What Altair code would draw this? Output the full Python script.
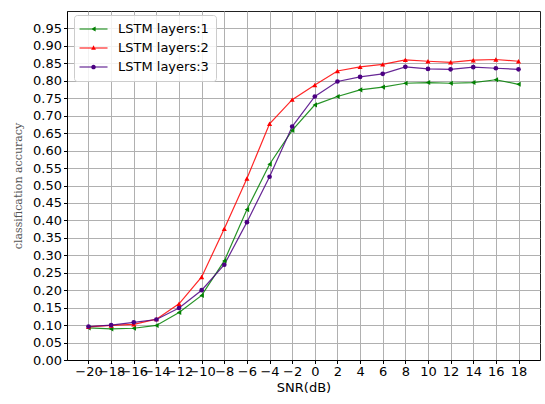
import altair as alt
import pandas as pd

snr = [-20, -18, -16, -14, -12, -10, -8, -6, -4, -2, 0, 2, 4, 6, 8, 10, 12, 14, 16, 18]
acc_layers1 = [0.092, 0.089, 0.091, 0.099, 0.136, 0.185, 0.284, 0.431, 0.561, 0.658,
               0.731, 0.755, 0.774, 0.782, 0.793, 0.795, 0.793, 0.795, 0.803, 0.790]
acc_layers2 = [0.095, 0.099, 0.102, 0.117, 0.161, 0.238, 0.376, 0.520, 0.677, 0.746,
               0.788, 0.828, 0.840, 0.847, 0.860, 0.856, 0.853, 0.859, 0.861, 0.856]
acc_layers3 = [0.096, 0.100, 0.108, 0.116, 0.149, 0.200, 0.273, 0.395, 0.525, 0.669,
               0.755, 0.798, 0.811, 0.820, 0.840, 0.834, 0.833, 0.839, 0.836, 0.833]
series_names = ["LSTM layers:1", "LSTM layers:2", "LSTM layers:3"]
series_colors = ["#008000", "#ff0000", "#4b0082"]
y_ticks = [0.00, 0.05, 0.10, 0.15, 0.20, 0.25, 0.30, 0.35, 0.40, 0.45,
           0.50, 0.55, 0.60, 0.65, 0.70, 0.75, 0.80, 0.85, 0.90, 0.95]

rows = []
for name, vals in zip(series_names, [acc_layers1, acc_layers2, acc_layers3]):
    for s, v in zip(snr, vals):
        rows.append({"SNR": s, "acc": v, "series": name})
df = pd.DataFrame(rows)

# legend symbols: a line segment with the marker in the middle
leg_line = "M-1.21,-0.086H2.79V0.086H-1.21Z"
legend_paths = [
    leg_line + "M0.43,0L1.09,-0.34L1.09,0.34Z",
    leg_line + "M0.79,-0.38L1.13,0.24L0.45,0.24Z",
    leg_line + "M1.12,0A0.33,0.33 0 1,1 0.46,0A0.33,0.33 0 1,1 1.12,0Z",
]

xs = alt.X("SNR:Q", scale=alt.Scale(domain=[-21.9, 19.9], nice=False, zero=False),
           axis=alt.Axis(values=snr, title="SNR(dB)",
                         labelExpr="replace(datum.label, '-', '\u2212')"))
ys = alt.Y("acc:Q", scale=alt.Scale(domain=[0, 1.0], nice=False, zero=False),
           axis=alt.Axis(values=y_ticks, format=".2f", title="classification accuracy",
                         titleFont="DejaVu Serif", titleFontSize=11, titleFontWeight="normal",
                         titleColor="#555", titleX=-49, titleY=174.5, titleAngle=-90,
                         titleAlign="center", titleBaseline="middle"))

color_scale = alt.Scale(domain=series_names, range=series_colors)
leg = alt.Legend(title=None, orient="none", legendX=7, legendY=4,
                 symbolSize=196, symbolStrokeWidth=0, labelOffset=23,
                 labelFontSize=13, labelFont="DejaVu Sans", labelColor="#000",
                 padding=7, rowPadding=5, fillColor="rgba(255,255,255,0.85)",
                 strokeColor="#cccccc", cornerRadius=3)

base = alt.Chart(df)

carrier = base.mark_point(filled=True, size=1, opacity=1, strokeWidth=0).encode(
    x=xs, y=ys,
    color=alt.Color("series:N", scale=color_scale, legend=leg),
    shape=alt.Shape("series:N", scale=alt.Scale(domain=series_names, range=legend_paths), legend=leg),
)

lines = base.mark_line(strokeWidth=1.2, opacity=0.85).encode(
    x=xs, y=ys, color=alt.Color("series:N", scale=color_scale, legend=None),
    detail="series:N",
)

marker_shapes = ["triangle-left", "triangle-up", "circle"]
marker_sizes = [26, 26, 22]
pts = []
for name, shp, sz in zip(series_names, marker_shapes, marker_sizes):
    pts.append(
        base.transform_filter(alt.datum.series == name)
        .mark_point(filled=True, shape=shp, size=sz, opacity=1)
        .encode(x=xs, y=ys, color=alt.Color("series:N", scale=color_scale, legend=None))
    )

chart = alt.layer(carrier, lines, *pts).properties(
    width=473, height=349,
    autosize=alt.AutoSizeParams(type="none"),
    padding={"left": 67, "top": 11, "right": 5, "bottom": 44},
).configure_view(
    stroke="#222", strokeWidth=1
).configure_axis(
    grid=True, gridColor="#b0b0b0", gridWidth=1, gridOpacity=1,
    domain=True, domainColor="#000", domainWidth=1,
    tickColor="#000", tickSize=3.5, tickWidth=1,
    labelFont="DejaVu Sans", labelFontSize=13, labelColor="#000", labelPadding=2,
    labelOverlap=False, labelFlush=False, labelBound=False,
    titleFont="DejaVu Sans", titleFontSize=13, titleFontWeight="normal", titleColor="#000",
    titlePadding=3,
).configure_legend(
    symbolStrokeWidth=0
)

chart.save("out.html", embed_options={"renderer": "svg", "actions": False})
